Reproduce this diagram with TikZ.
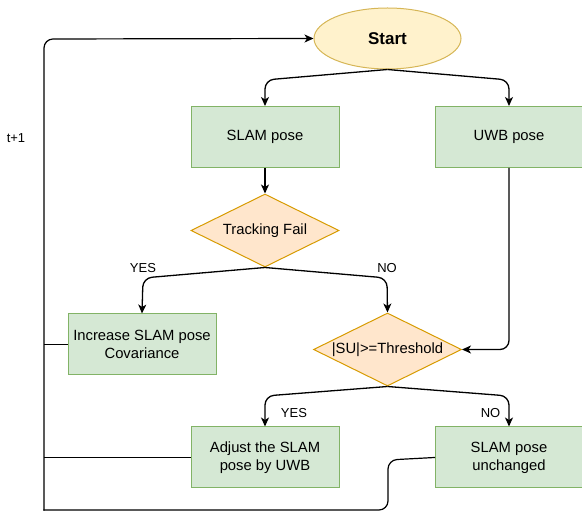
\documentclass[tikz,border=0pt]{standalone}
\usepackage{fontspec}
\setmainfont{Liberation Sans}
\usetikzlibrary{shapes.geometric,arrows.meta}
\definecolor{gfill}{HTML}{D5E8D4}
\definecolor{gline}{HTML}{82B366}
\definecolor{ofill}{HTML}{FFE6CC}
\definecolor{oline}{HTML}{D79B00}
\definecolor{yfill}{HTML}{FFF2CC}
\definecolor{yline}{HTML}{D6B656}
\tikzset{
  box/.style={draw=gline, fill=gfill, line width=1pt, minimum width=148pt, minimum height=61pt, inner sep=0pt, align=center, font=\fontsize{14.8}{18}\selectfont},
  dia/.style={draw=oline, fill=ofill, line width=1pt, shape=diamond, minimum width=148pt, minimum height=73pt, inner sep=0pt},
  dtext/.style={font=\fontsize{14.8}{18}\selectfont, inner sep=0pt},
  startnode/.style={draw=yline, fill=yfill, line width=1pt, shape=ellipse, minimum width=147pt, minimum height=61pt, inner sep=0pt, font=\fontsize{17}{20}\selectfont\bfseries},
  lbl/.style={font=\fontsize{13}{15}\selectfont, inner sep=0pt},
  arr/.style={line width=1.3pt, rounded corners=9pt, -{Stealth[length=9pt,width=8pt,inset=2.5pt]}},
  ln/.style={line width=1.2pt},
}
\begin{document}
\begin{tikzpicture}[x=1pt,y=-1pt]
\useasboundingbox (0,0) rectangle (582,513);
\node[startnode] (start) at (387.5,38.5) {Start};
\node[box] (slam) at (265,137) {SLAM pose};
\node[box] (uwb) at (509,137) {UWB pose};
\node[dia] (tf) at (265,230.5) {};
\node[dtext] (tft) at (tf) {Tracking Fail};
\node[box] (incr) at (142,344.5) {Increase SLAM pose\\Covariance};
\node[dia] (thr) at (387.5,349.5) {};
\node[dtext] (thrt) at (thr) {|SU|>=Threshold};
\node[box] (adj) at (265,457.5) {Adjust the SLAM\\pose by UWB};
\node[box] (unch) at (509,457.5) {SLAM pose\\unchanged};

\node[lbl] (yes1) at (143,268) {YES};
\node[lbl] (no1) at (387,268) {NO};
\node[lbl] (yes2) at (294,413) {YES};
\node[lbl] (no2) at (490.5,413) {NO};
\node[lbl] (tp) at (16,138) {t+1};

\coordinate (c1) at (265,80);
\coordinate (c2) at (509,80);
\coordinate (c3) at (143,278);
\coordinate (c4) at (387,278);
\coordinate (c5) at (265,396);
\coordinate (c6) at (509,396);
\coordinate (c7) at (509,349.5);
\coordinate (u1) at (388,460);
\coordinate (u2) at (388,510);
\coordinate (bl) at (44,510);
\coordinate (tl) at (44,39);
\coordinate (j1) at (44,344.5);
\coordinate (j2) at (44,457.5);

\draw[arr] (start.south) -- (c1) -- (slam.north);
\draw[arr] (start.south) -- (c2) -- (uwb.north);
\draw[arr] (slam.south) -- (tf.north);
\draw[arr] (tf.south) -- (c3) -- (incr.north);
\draw[arr] (tf.south) -- (c4) -- (thr.north);
\draw[arr] (uwb.south) -- (c7) -- (thr.east);
\draw[arr] (thr.south) -- (c5) -- (adj.north);
\draw[arr] (thr.south) -- (c6) -- (unch.north);

\draw[ln, rounded corners=9pt, line cap=rect] (unch.west) -- (u1) -- (u2) -- (bl);
\draw[arr, line width=1.2pt, line cap=rect] (bl) -- (tl) -- (start.west);
\draw[ln] (incr.west) -- (j1);
\draw[ln] (adj.west) -- (j2);
\end{tikzpicture}
\end{document}
